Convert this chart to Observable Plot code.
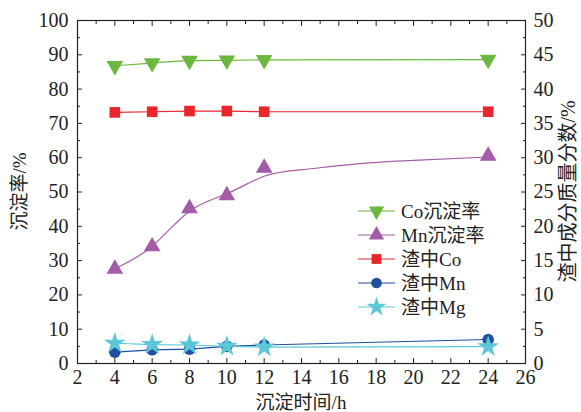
<!DOCTYPE html>
<html><head><meta charset="utf-8">
<script src="https://cdn.jsdelivr.net/npm/d3@7"></script>
<script src="https://cdn.jsdelivr.net/npm/@observablehq/plot@0.6"></script>
<style>
body{margin:0;background:#fff;}
#chart{position:relative;width:581px;height:412px;}
#chart svg text{font-family:"Liberation Serif","Noto Sans CJK SC",serif !important;font-variant:normal !important;}
</style></head>
<body><div id="chart"></div>
<script>
const times = [4, 6, 8, 10, 12, 24];
const coRate = [86.8, 87.6, 88.3, 88.4, 88.5, 88.6];
const mnRate = [27.6, 34.1, 45.2, 49.0, 57.0, 60.5];
const mnFitX = [4, 6, 8, 10, 12, 14, 17, 20, 24];
const mnFitY = [27.6, 34.2, 44.4, 49.5, 54.6, 56.5, 58.2, 59.2, 60.2];
const coSlag = [36.6, 36.7, 36.8, 36.8, 36.7, 36.7];
const mnSlag = [1.65, 2.0, 2.1, 2.5, 2.7, 3.5];
const mgSlag = [2.95, 2.75, 2.7, 2.5, 2.4, 2.45];
const names = ["Co沉淀率", "Mn沉淀率", "渣中Co", "渣中Mn", "渣中Mg"];
const colors = ["#6bb83e", "#a45ba8", "#e8262b", "#1f4fa0", "#5cc7d6"];
const xTicks = d3.range(2, 27, 2);
const leftTicks = d3.range(0, 101, 10);
const rightTicks = d3.range(0, 51, 5);

const sqrt3 = Math.sqrt(3);
const triangleDown = {draw(context, size) {
  const y = -Math.sqrt(size / (sqrt3 * 3));
  context.moveTo(0, -y * 2);
  context.lineTo(-sqrt3 * y, y);
  context.lineTo(sqrt3 * y, y);
  context.closePath();
}};
const symbols = [triangleDown, d3.symbolTriangle, d3.symbolSquare, d3.symbolCircle, d3.symbolStar];
const radii = [6.2, 6.2, 6, 5.8, 6.8];

const rows = (ys, scale) => times.map((t, i) => ({x: t, y: ys[i] * scale}));
const coR = rows(coRate, 1), mnR = rows(mnRate, 1);
const coS = rows(coSlag, 2), mnS = rows(mnSlag, 2), mgS = rows(mgSlag, 2);
const fit = mnFitX.map((t, i) => ({x: t, y: mnFitY[i]}));

const F = 20;
const tf = "Liberation Serif, Noto Sans CJK SC, serif";
const plot = Plot.plot({
  width: 581, height: 412,
  marginLeft: 77, marginRight: 56, marginTop: 20, marginBottom: 49,
  x: {domain: [2, 26]},
  y: {domain: [0, 100]},
  style: {color: "#222", background: "white", fontFamily: tf},
  marks: [
    Plot.axisY({anchor: "left", ticks: leftTicks, tickSize: -5, tickPadding: 14, fontSize: F, label: null}),
    Plot.axisY({anchor: "left", ticks: d3.range(5, 100, 10), tickSize: -3, tickFormat: () => "", label: null}),
    Plot.axisY({anchor: "right", ticks: rightTicks.map(v => v * 2), tickFormat: d => d / 2, tickSize: -5, tickPadding: 13, fontSize: F, label: null}),
    Plot.axisY({anchor: "right", ticks: d3.range(5, 100, 10), tickSize: -3, tickFormat: () => "", label: null}),
    Plot.axisX({anchor: "bottom", ticks: xTicks, tickSize: -5, tickPadding: 11, fontSize: F, label: null}),
    Plot.axisX({anchor: "bottom", ticks: d3.range(3, 26, 2), tickSize: -3, tickFormat: () => "", label: null}),
    Plot.axisX({anchor: "top", ticks: xTicks, tickSize: -5, tickFormat: () => "", label: null}),
    Plot.axisX({anchor: "top", ticks: d3.range(3, 26, 2), tickSize: -3, tickFormat: () => "", label: null}),
    Plot.line(coR, {x: "x", y: "y", stroke: colors[0], strokeWidth: 1.2, curve: "monotone-x"}),
    Plot.line(fit, {x: "x", y: "y", stroke: colors[1], strokeWidth: 1.2, curve: "natural"}),
    Plot.line(coS, {x: "x", y: "y", stroke: colors[2], strokeWidth: 1.2}),
    Plot.line(mnS, {x: "x", y: "y", stroke: colors[3], strokeWidth: 1.2}),
    Plot.line(mgS, {x: "x", y: "y", stroke: colors[4], strokeWidth: 1.2}),
    Plot.dot(coR, {x: "x", y: "y", fill: colors[0], symbol: symbols[0], r: radii[0]}),
    Plot.dot(mnR, {x: "x", y: "y", fill: colors[1], symbol: symbols[1], r: radii[1]}),
    Plot.dot(coS, {x: "x", y: "y", fill: colors[2], symbol: symbols[2], r: radii[2]}),
    Plot.dot(mnS, {x: "x", y: "y", fill: colors[3], symbol: symbols[3], r: radii[3]}),
    Plot.dot(mgS, {x: "x", y: "y", fill: colors[4], symbol: symbols[4], r: radii[4]}),
    Plot.frame({stroke: "#222", strokeWidth: 1.2})
  ]
});
document.getElementById("chart").appendChild(plot);

const svg = d3.select(plot);
svg.attr("font-family", tf);
svg.selectAll("text").attr("font-family", tf).attr("font-variant", null);

const xs = plot.scale("x"), ys = plot.scale("y");
const cx = (xs.range[0] + xs.range[1]) / 2, cy = (ys.range[0] + ys.range[1]) / 2;
svg.append("text").attr("x", cx).attr("y", 409).attr("text-anchor", "middle")
  .attr("font-size", 19).attr("font-family", tf).attr("fill", "#222").text("沉淀时间/h");
svg.append("text").attr("transform", `translate(26,${cy}) rotate(-90)`).attr("text-anchor", "middle")
  .attr("font-size", 19).attr("font-family", tf).attr("fill", "#222").text("沉淀率/%");
svg.append("text").attr("transform", `translate(575,${cy}) rotate(-90)`).attr("text-anchor", "middle")
  .attr("font-size", 20).attr("font-family", tf).attr("fill", "#222").text("渣中成分质量分数/%");

const lg = svg.append("g").attr("transform", "translate(358,211)");
names.forEach((n, i) => {
  const g = lg.append("g").attr("transform", `translate(0,${i * 24})`);
  g.append("line").attr("x1", 0).attr("x2", 37).attr("y1", 0).attr("y2", 0).attr("stroke", colors[i]).attr("stroke-width", 1.2);
  g.append("path").attr("d", d3.symbol(symbols[i], Math.PI * radii[i] * radii[i] * 0.85)())
    .attr("transform", "translate(18.5,0)").attr("fill", colors[i]);
  g.append("text").attr("x", 43).attr("y", 0).attr("dy", "0.35em").attr("font-size", 19)
    .attr("text-anchor", "start").attr("font-family", tf).attr("fill", "#222").text(n);
});
</script></body></html>
